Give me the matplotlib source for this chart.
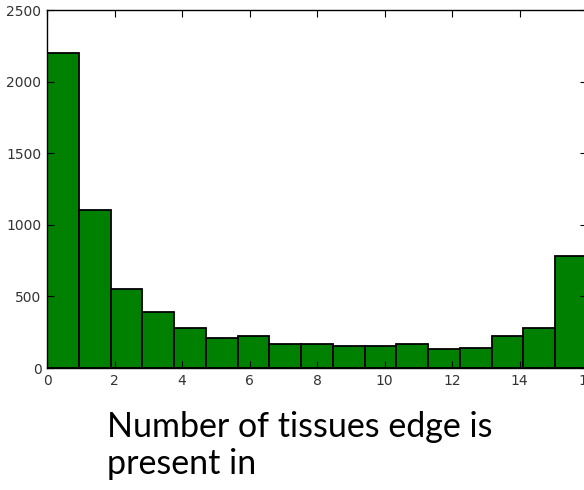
import numpy as np
import matplotlib
matplotlib.use("Agg")
import matplotlib.pyplot as plt

# counts per bin, 17 equal bins over 0..16 tissues
bin_edges = np.linspace(0, 16, 18)
counts = [2200, 1100, 550, 390, 280, 210, 220, 165, 165, 155,
          155, 165, 130, 140, 220, 280, 780]
y_ticks = [0, 500, 1000, 1500, 2000, 2500]
x_ticks = [0, 2, 4, 6, 8, 10, 12, 14, 16]
caption = ["Number of tissues edge is", "present in"]

fig = plt.figure(figsize=(5.84, 4.90), dpi=100, facecolor="white")
ax = fig.add_axes([47 / 584, 1 - 368 / 490, 540 / 584, 358 / 490])

ax.bar(bin_edges[:-1], counts, width=np.diff(bin_edges), align="edge",
       color="green", edgecolor="black", linewidth=1.3)

ax.set_xlim(0, 16)
ax.set_ylim(0, 2500)
ax.set_xticks(x_ticks)
ax.set_yticks(y_ticks)
ax.tick_params(direction="in", length=5, width=0.8, top=True, right=True,
               labelsize=10, labelcolor="#333333", pad=4)
for s in ax.spines.values():
    s.set_linewidth(1.0)
    s.set_color("black")

# caption under the plot, two lines
for line, base in zip(caption, [437, 474]):
    fig.text(107 / 584, 1 - base / 490, line, fontsize=24.5, family="Lato",
             ha="left", va="baseline", color="black")

fig.savefig("out.png", dpi=100, facecolor="white")
